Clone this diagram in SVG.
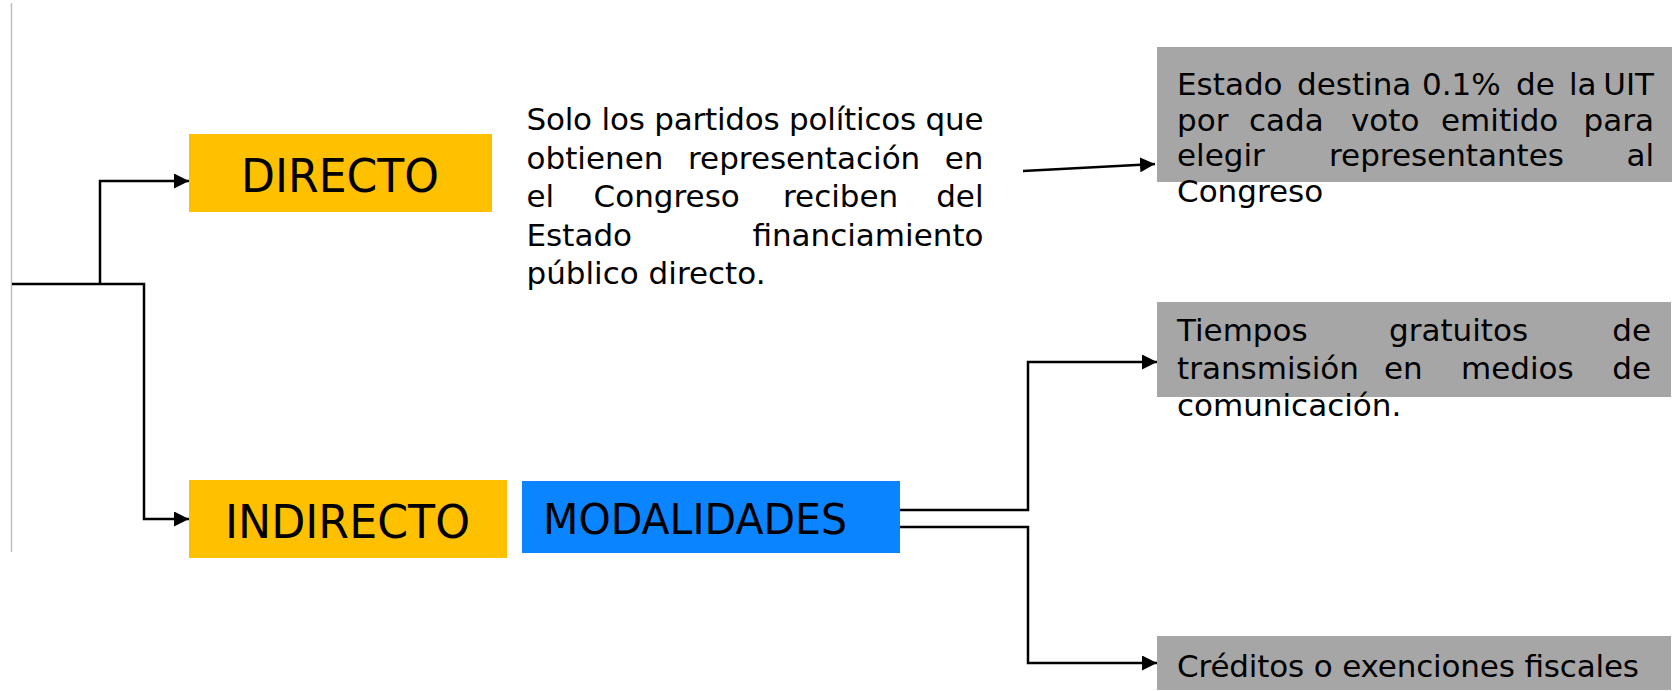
<svg xmlns="http://www.w3.org/2000/svg" width="1674" height="691" viewBox="0 0 1674 691">
<defs>
<marker id="ah" markerUnits="userSpaceOnUse" markerWidth="16" markerHeight="15" refX="15" refY="7.5" orient="auto">
<path d="M0,0 L15,7.5 L0,15 Z" fill="#000"/>
</marker>
<style>
.conn{fill:none;stroke:#000;stroke-width:2.5}
.yellow{fill:#FFC000}
.blue{fill:#0A84FF}
.gray{fill:#A6A6A6}
.lbl{font-family:"DejaVu Sans","Liberation Sans",sans-serif;font-size:47px;fill:#000}
.body{font-family:"DejaVu Sans","Liberation Sans",sans-serif;font-size:31px;fill:#000}
</style>
</defs>
<rect width="1674" height="691" fill="#fff"/>
<line x1="11.5" y1="3" x2="11.5" y2="552" stroke="#BFBFBF" stroke-width="1.5"/>

<g id="connectors">
<path class="conn" d="M12,284 H144 V519 H189" marker-end="url(#ah)"/>
<path class="conn" d="M100,284 V181 H189" marker-end="url(#ah)"/>
<path class="conn" d="M1023,171 L1155,164" marker-end="url(#ah)"/>
<path class="conn" d="M900,510 H1028 V362 H1157" marker-end="url(#ah)"/>
<path class="conn" d="M900,527 H1028 V663 H1157" marker-end="url(#ah)"/>
</g>

<g id="directo">
<rect class="yellow" x="189" y="134" width="303" height="78"/>
<text class="lbl" x="241" y="192" textLength="198" lengthAdjust="spacingAndGlyphs">DIRECTO</text>
</g>

<g id="indirecto">
<rect class="yellow" x="189" y="480" width="318" height="78"/>
<text class="lbl" x="225" y="538" textLength="245" lengthAdjust="spacingAndGlyphs">INDIRECTO</text>
</g>

<g id="modalidades">
<rect class="blue" x="522" y="481" width="378" height="72"/>
<text class="lbl" x="543" y="534" style="font-size:42.5px" textLength="304" lengthAdjust="spacingAndGlyphs">MODALIDADES</text>
</g>

<g id="texto-directo">
<text class="body" x="526.5" y="130" textLength="457" lengthAdjust="spacing">Solo los partidos políticos que</text>
<text class="body" y="168.5"><tspan x="526.5">obtienen</tspan><tspan x="688">representación</tspan><tspan x="983.5" text-anchor="end">en</tspan></text>
<text class="body" y="207"><tspan x="526.5">el</tspan><tspan x="593.6">Congreso</tspan><tspan x="783">reciben</tspan><tspan x="983.5" text-anchor="end">del</tspan></text>
<text class="body" y="245.5"><tspan x="526.5">Estado</tspan><tspan x="983.5" text-anchor="end">financiamiento</tspan></text>
<text class="body" x="526.5" y="284">público directo.</text>
</g>

<g id="uit">
<rect class="gray" x="1157" y="47" width="515" height="135"/>
<text class="body" y="95"><tspan x="1177">Estado</tspan><tspan x="1297">destina</tspan><tspan x="1422">0.1%</tspan><tspan x="1516">de</tspan><tspan x="1569">la</tspan><tspan x="1654" text-anchor="end">UIT</tspan></text>
<text class="body" y="131"><tspan x="1177">por</tspan><tspan x="1249">cada</tspan><tspan x="1351">voto</tspan><tspan x="1441">emitido</tspan><tspan x="1654" text-anchor="end">para</tspan></text>
<text class="body" y="166"><tspan x="1177">elegir</tspan><tspan x="1329">representantes</tspan><tspan x="1654" text-anchor="end">al</tspan></text>
<text class="body" x="1177" y="202">Congreso</text>
</g>

<g id="tiempos">
<rect class="gray" x="1157" y="302" width="514" height="95"/>
<text class="body" y="341"><tspan x="1177">Tiempos</tspan><tspan x="1389">gratuitos</tspan><tspan x="1651" text-anchor="end">de</tspan></text>
<text class="body" y="379"><tspan x="1177">transmisión</tspan><tspan x="1384">en</tspan><tspan x="1461">medios</tspan><tspan x="1651" text-anchor="end">de</tspan></text>
<text class="body" x="1177" y="416">comunicación.</text>
</g>

<g id="creditos">
<rect class="gray" x="1157" y="636" width="514" height="54"/>
<text class="body" x="1177" y="677" textLength="462" lengthAdjust="spacing">Créditos o exenciones fiscales</text>
</g>
</svg>
